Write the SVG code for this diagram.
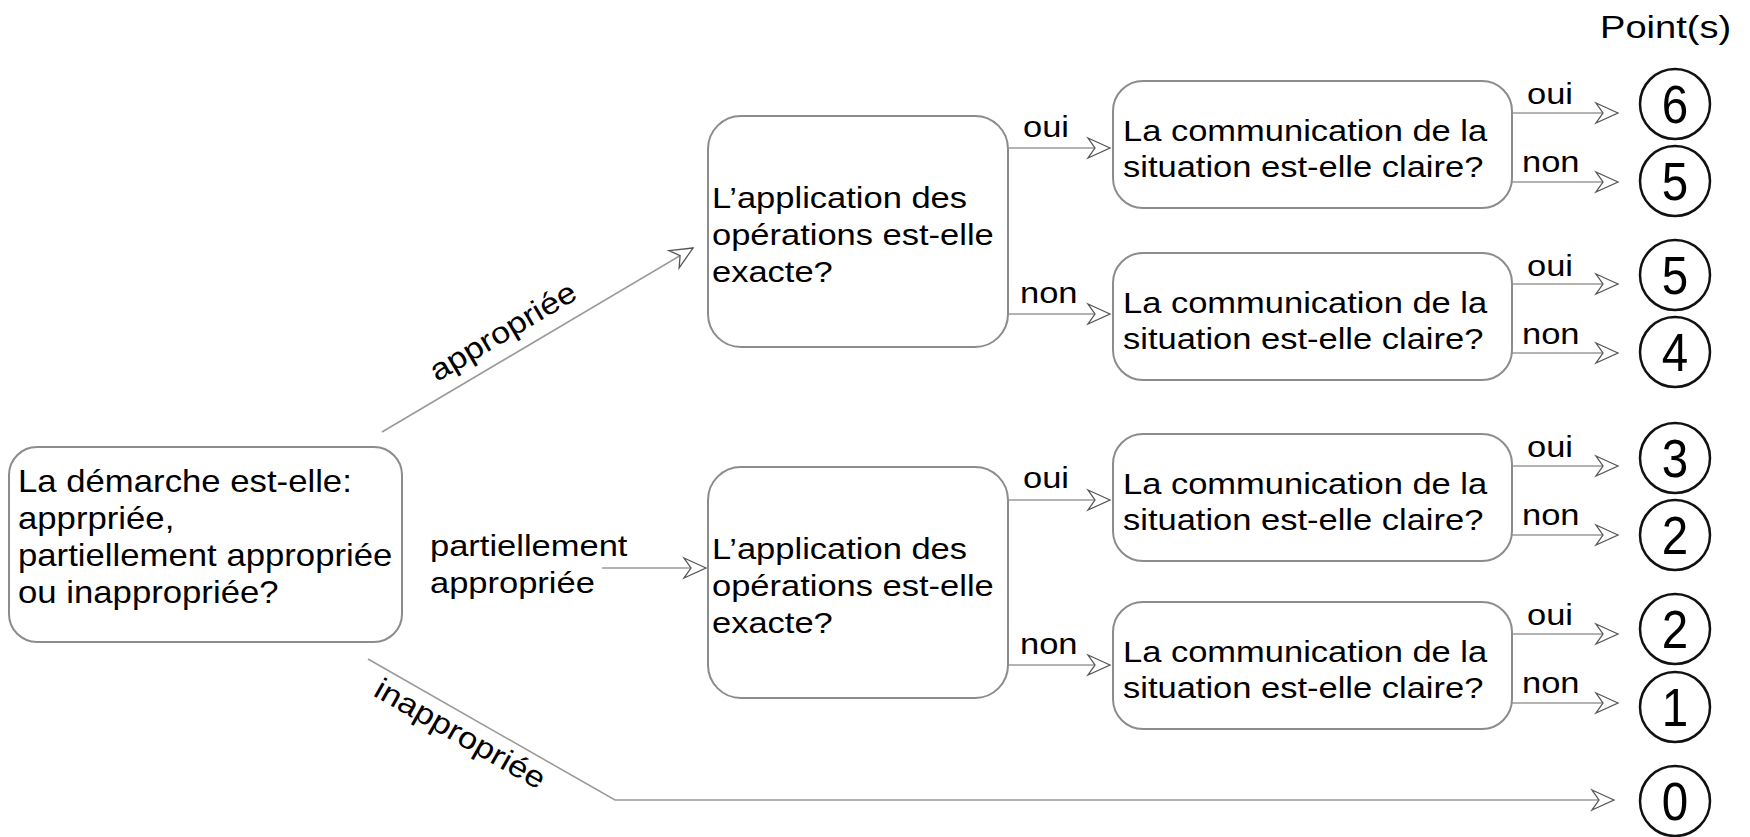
<svg xmlns="http://www.w3.org/2000/svg" width="1750" height="837" viewBox="0 0 1750 837">
<defs>
<style>
.box{fill:#fff;stroke:#8c8c8c;stroke-width:2}
.t{font-family:"Liberation Sans",Arial,sans-serif;font-size:30px;fill:#000}
.pt{fill:#fff;stroke:#111;stroke-width:2.5}
.num{font-family:"Liberation Sans",Arial,sans-serif;font-size:54px;fill:#000;text-anchor:middle}
.c{fill:none;stroke:#9a9a9a;stroke-width:1.6}
</style>
<marker id="ah" markerUnits="userSpaceOnUse" markerWidth="28" markerHeight="26" viewBox="-25 -13 28 26" refX="0" refY="0" orient="auto">
<path d="M0,0 L-22,-10 L-15,0 L-22,10 Z" fill="#fff" stroke="#555" stroke-width="1.3" stroke-linejoin="miter"/>
</marker>
</defs>
<rect width="1750" height="837" fill="#fff"/>

<g id="connectors">
<line class="c" x1="382" y1="432" x2="693" y2="248" marker-end="url(#ah)"/>
<line class="c" x1="602" y1="568" x2="706" y2="568" marker-end="url(#ah)"/>
<polyline class="c" points="368,659 615,800 1614,800" marker-end="url(#ah)"/>
<line class="c" x1="1008" y1="148" x2="1110" y2="148" marker-end="url(#ah)"/>
<line class="c" x1="1008" y1="314" x2="1110" y2="314" marker-end="url(#ah)"/>
<line class="c" x1="1008" y1="500" x2="1110" y2="500" marker-end="url(#ah)"/>
<line class="c" x1="1008" y1="665" x2="1110" y2="665" marker-end="url(#ah)"/>
<line class="c" x1="1512" y1="113" x2="1618" y2="113" marker-end="url(#ah)"/>
<line class="c" x1="1512" y1="182" x2="1618" y2="182" marker-end="url(#ah)"/>
<line class="c" x1="1512" y1="284" x2="1618" y2="284" marker-end="url(#ah)"/>
<line class="c" x1="1512" y1="353" x2="1618" y2="353" marker-end="url(#ah)"/>
<line class="c" x1="1512" y1="466" x2="1618" y2="466" marker-end="url(#ah)"/>
<line class="c" x1="1512" y1="535" x2="1618" y2="535" marker-end="url(#ah)"/>
<line class="c" x1="1512" y1="634" x2="1618" y2="634" marker-end="url(#ah)"/>
<line class="c" x1="1512" y1="703" x2="1618" y2="703" marker-end="url(#ah)"/>
<text class="t" transform="translate(437,382) rotate(-30.6) scale(1.15,1)">appropriée</text>
<text class="t" transform="translate(372,695) rotate(29.7) scale(1.15,1)">inappropriée</text>
<text class="t" transform="translate(430,556) scale(1.15,1)"><tspan x="0">partiellement</tspan><tspan x="0" dy="37">appropriée</tspan></text>
<text class="t" transform="translate(1023,137) scale(1.15,1)">oui</text>
<text class="t" transform="translate(1020,303) scale(1.15,1)">non</text>
<text class="t" transform="translate(1023,488) scale(1.15,1)">oui</text>
<text class="t" transform="translate(1020,654) scale(1.15,1)">non</text>
<text class="t" transform="translate(1527,104) scale(1.15,1)">oui</text>
<text class="t" transform="translate(1522,172) scale(1.15,1)">non</text>
<text class="t" transform="translate(1527,276) scale(1.15,1)">oui</text>
<text class="t" transform="translate(1522,344) scale(1.15,1)">non</text>
<text class="t" transform="translate(1527,457) scale(1.15,1)">oui</text>
<text class="t" transform="translate(1522,525) scale(1.15,1)">non</text>
<text class="t" transform="translate(1527,625) scale(1.15,1)">oui</text>
<text class="t" transform="translate(1522,693) scale(1.15,1)">non</text>
</g>

<g id="start">
<rect class="box" x="9" y="447" width="393" height="195" rx="28"/>
<text class="t" style="font-size:31px" transform="translate(18,492) scale(1.12,1)"><tspan x="0">La démarche est-elle:</tspan><tspan x="0" dy="37">apprpriée,</tspan><tspan x="0" dy="37">partiellement appropriée</tspan><tspan x="0" dy="37">ou inappropriée?</tspan></text>
</g>

<g id="app1">
<rect class="box" x="708" y="116" width="300" height="231" rx="33"/>
<text class="t" transform="translate(712,208) scale(1.15,1)"><tspan x="0">L’application des</tspan><tspan x="0" dy="37">opérations est-elle</tspan><tspan x="0" dy="37">exacte?</tspan></text>
</g>
<g id="app2">
<rect class="box" x="708" y="467" width="300" height="231" rx="33"/>
<text class="t" transform="translate(712,559) scale(1.15,1)"><tspan x="0">L’application des</tspan><tspan x="0" dy="37">opérations est-elle</tspan><tspan x="0" dy="37">exacte?</tspan></text>
</g>

<g id="comm1">
<rect class="box" x="1113" y="81" width="399" height="127" rx="30"/>
<text class="t" transform="translate(1123,141) scale(1.15,1)"><tspan x="0">La communication de la</tspan><tspan x="0" dy="36">situation est-elle claire?</tspan></text>
</g>
<g id="comm2">
<rect class="box" x="1113" y="253" width="399" height="127" rx="30"/>
<text class="t" transform="translate(1123,313) scale(1.15,1)"><tspan x="0">La communication de la</tspan><tspan x="0" dy="36">situation est-elle claire?</tspan></text>
</g>
<g id="comm3">
<rect class="box" x="1113" y="434" width="399" height="127" rx="30"/>
<text class="t" transform="translate(1123,494) scale(1.15,1)"><tspan x="0">La communication de la</tspan><tspan x="0" dy="36">situation est-elle claire?</tspan></text>
</g>
<g id="comm4">
<rect class="box" x="1113" y="602" width="399" height="127" rx="30"/>
<text class="t" transform="translate(1123,662) scale(1.15,1)"><tspan x="0">La communication de la</tspan><tspan x="0" dy="36">situation est-elle claire?</tspan></text>
</g>

<g id="points-header">
<text class="t" style="font-size:32px" transform="translate(1600,38) scale(1.19,1)">Point(s)</text>
</g>
<g id="p6"><circle class="pt" cx="1675" cy="104" r="35"/><text class="num" transform="translate(1675,123) scale(0.88,1)">6</text></g>
<g id="p5a"><circle class="pt" cx="1675" cy="181" r="35"/><text class="num" transform="translate(1675,200) scale(0.88,1)">5</text></g>
<g id="p5b"><circle class="pt" cx="1675" cy="275" r="35"/><text class="num" transform="translate(1675,294) scale(0.88,1)">5</text></g>
<g id="p4"><circle class="pt" cx="1675" cy="352" r="35"/><text class="num" transform="translate(1675,371) scale(0.88,1)">4</text></g>
<g id="p3"><circle class="pt" cx="1675" cy="458" r="35"/><text class="num" transform="translate(1675,477) scale(0.88,1)">3</text></g>
<g id="p2a"><circle class="pt" cx="1675" cy="535" r="35"/><text class="num" transform="translate(1675,554) scale(0.88,1)">2</text></g>
<g id="p2b"><circle class="pt" cx="1675" cy="629" r="35"/><text class="num" transform="translate(1675,648) scale(0.88,1)">2</text></g>
<g id="p1"><circle class="pt" cx="1675" cy="707" r="35"/><text class="num" transform="translate(1675,726) scale(0.88,1)">1</text></g>
<g id="p0"><circle class="pt" cx="1675" cy="801" r="35"/><text class="num" transform="translate(1675,820) scale(0.88,1)">0</text></g>
</svg>
